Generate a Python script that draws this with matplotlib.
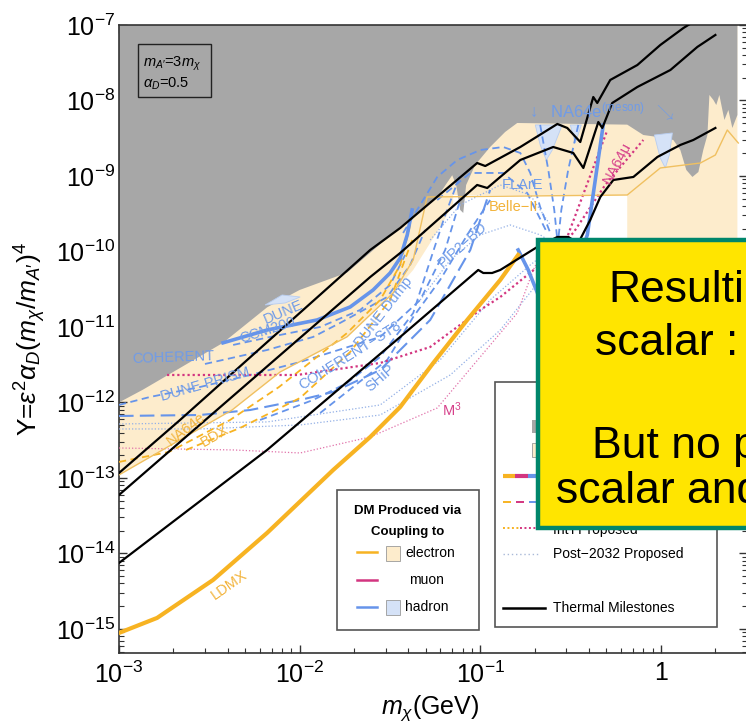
import numpy as np
import matplotlib
matplotlib.use("Agg")
import matplotlib.pyplot as plt
from matplotlib.patches import Rectangle, Polygon
from matplotlib.ticker import LogLocator, FixedLocator, FixedFormatter, NullFormatter

plt.rcParams['font.family'] = ['Liberation Sans', 'DejaVu Sans']
plt.rcParams['mathtext.fontset'] = 'custom'
plt.rcParams['mathtext.rm'] = 'Liberation Sans'
plt.rcParams['mathtext.it'] = 'Liberation Sans:italic'
plt.rcParams['mathtext.bf'] = 'Liberation Sans:bold'
plt.rcParams['mathtext.sf'] = 'Liberation Sans'

# ---------------------------------------------------------------- axes
m_lim = (1e-3, 3.0)
Y_lim = (4.8e-16, 1e-7)
xtick_vals = [1e-3, 1e-2, 1e-1, 1.0]
xtick_labels = [r'$10^{-3}$', r'$10^{-2}$', r'$10^{-1}$', '1']
ytick_vals = [1e-15, 1e-14, 1e-13, 1e-12, 1e-11, 1e-10, 1e-9, 1e-8, 1e-7]
ytick_labels = [r'$10^{-15}$', r'$10^{-14}$', r'$10^{-13}$', r'$10^{-12}$',
                r'$10^{-11}$', r'$10^{-10}$', r'$10^{-9}$', r'$10^{-8}$', r'$10^{-7}$']

# ---------------------------------------------------------------- data (log10 m[GeV], log10 Y)
# existing constraints (grey), lower edge
grey_lm = [-3.0, -2.867, -2.424, -2.18, -2.0, -1.737, -1.443, -1.332, -1.222, -1.155,
           -1.133, -1.111, -1.094, -1.078, -1.028, -0.945, -0.862, -0.795, -0.186, -0.097,
           -0.019, 0.069, 0.108, 0.141, 0.175, 0.208, 0.235, 0.258, 0.269, 0.291,
           0.307, 0.324, 0.352, 0.374, 0.396, 0.424]
grey_lY = [-12.0, -11.83, -11.21, -10.74, -10.51, -10.28, -9.675, -9.45, -9.225, -8.99,
           -9.12, -9.45, -9.49, -9.12, -8.854, -8.616, -8.417, -8.298, -8.32, -8.457,
           -8.483, -8.523, -8.656, -8.92, -9.013, -8.947, -8.656, -8.457, -7.927, -7.993,
           -8.06, -7.927, -8.258, -8.126, -8.364, -8.192]

# electron-beam constraints (beige), lower edge
beige_lm = [-3.0, -2.374, -2.108, -1.737, -1.482, -1.371, -1.249, -1.150, -1.150,
            -0.186, -0.186, 0.424]
beige_lY = [-12.96, -12.10, -11.596, -11.13, -10.55, -10.245, -9.78, -9.384, -9.252,
            -9.252, -11.30, -11.30]

# thin orange boundary (NA64e / Belle-II)
orange_lm = [-3.0, -2.374, -2.108, -1.737, -1.482, -1.371, -1.294, -0.186, -0.003,
             0.219, 0.302, 0.368, 0.429]
orange_lY = [-12.96, -12.10, -11.596, -11.13, -10.55, -10.11, -9.278, -9.252, -8.894,
             -8.828, -8.722, -8.391, -8.563]

# hadron-beam excluded patches (light blue)
hpatch_a_lm = [-0.695, -0.546, -0.601, -0.634, -0.668]
hpatch_a_lY = [-8.324, -8.324, -8.656, -8.788, -8.589]
hpatch_b_lm = [-0.501, -0.440, -0.474]
hpatch_b_lY = [-8.324, -8.324, -8.563]
hpatch_c_lm = [-0.036, 0.064, 0.047, 0.025, -0.003]
hpatch_c_lY = [-8.457, -8.43, -8.722, -8.894, -8.762]
hpatch_d_lm = [-2.191, -2.097, -1.997, -2.080]
hpatch_d_lY = [-10.709, -10.576, -10.603, -10.682]

# thermal milestones
th1_lm = [-3.0, -2.662, -1.609, -1.443, -1.017, -0.972, -0.778, -0.573, -0.518, -0.446,
          -0.374, -0.352, -0.280, -0.130, -0.003, 0.125, 0.330]
th1_lY = [-12.934, -12.232, -9.98, -9.689, -8.828, -8.868, -8.616, -8.311, -8.364, -8.55,
          -7.954, -8.033, -7.728, -7.53, -7.265, -7.04, -6.735]
th2_lm = [-3.0, -2.662, -1.609, -1.443, -1.017, -0.961, -0.778, -0.596, -0.485, -0.429,
          -0.346, -0.324, -0.269, -0.130, 0.053, 0.202, 0.302]
th2_lY = [-13.225, -12.523, -10.338, -10.02, -9.119, -9.159, -8.788, -8.616, -8.695, -8.894,
          -8.285, -8.364, -8.033, -7.821, -7.596, -7.291, -7.132]
th3_lm = [-3.0, -2.18, -1.443, -1.011, -0.983, -0.934, -0.889, -0.684, -0.573, -0.513,
          -0.457, -0.391, -0.335, -0.263, -0.152, -0.019, 0.108, 0.180, 0.302]
th3_lY = [-14.126, -12.629, -11.132, -10.245, -10.285, -10.285, -10.245, -9.94, -9.808, -9.808,
          -9.887, -9.583, -9.278, -9.053, -9.013, -8.748, -8.589, -8.523, -8.364]

# LDMX projection
ldmx_lm = [-3.0, -2.789, -2.479, -2.18, -1.814, -1.609, -1.443, -1.260, -1.072, -0.889, -0.790]
ldmx_lY = [-15.053, -14.854, -14.351, -13.728, -12.894, -12.457, -12.06, -11.477, -10.907,
           -10.377, -10.046]

# CCM200 and the hadron-beam solid curve
ccm_lm = [-2.424, -2.18, -1.903, -1.720, -1.593, -1.499, -1.443, -1.404, -1.377]
ccm_lY = [-11.21, -11.04, -10.907, -10.735, -10.51, -10.285, -10.086, -9.78, -9.45]
had_lm = [-0.790, -0.734, -0.668, -0.585, -0.501, -0.446, -0.407, -0.363, -0.319]
had_lY = [-9.98, -10.245, -10.642, -10.907, -10.642, -10.046, -9.78, -9.053, -8.324]

# muon-beam projections
na64mu_lm = [-2.734, -2.014, -1.554, -1.277, -1.0, -0.889, -0.684, -0.518, -0.296]
na64mu_lY = [-11.636, -11.636, -11.477, -11.265, -10.775, -10.603, -10.205, -9.808, -8.391]
na64mu2_lm = [-0.557, -0.485, -0.308, -0.097]
na64mu2_lY = [-9.914, -9.755, -9.119, -8.523]
m3_lm = [-3.0, -2.368, -1.997, -1.609, -1.238, -1.0, -0.795, -0.706, -0.640]
m3_lY = [-12.603, -12.629, -12.669, -12.457, -12.073, -11.397, -10.815, -10.245, -9.914]

# electron-beam dashed projections
na64e_lm = [-3.0, -2.723, -2.385, -2.114, -1.925, -1.737, -1.554, -1.443, -1.388]
na64e_lY = [-12.788, -12.655, -12.232, -11.795, -11.437, -11.08, -10.642, -10.179, -9.649]
bdx_lm = [-2.629, -2.330, -1.997, -1.720, -1.499, -1.377]
bdx_lY = [-12.629, -12.338, -11.94, -11.331, -10.642, -9.848]

# hadron-beam dashed projections
coh_lm = [-2.524, -2.18, -1.925, -1.776, -1.515, -1.388, -1.305]
coh_lY = [-11.49, -11.305, -11.132, -10.947, -10.603, -10.179, -9.715]
prism_lm = [-3.0, -2.828, -2.551, -2.274, -1.997, -1.554, -1.332, -1.194, -1.111]
prism_lY = [-12.033, -11.927, -11.795, -11.636, -11.464, -11.132, -10.642, -9.98, -9.318]
ld_lm = [-3.0, -2.551, -2.274, -1.997, -1.814, -1.554, -1.277, -1.055, -0.945]
ld_lY = [-12.179, -12.166, -12.10, -11.967, -11.861, -11.57, -10.907, -9.98, -9.185]
dump_lm = [-2.219, -1.925, -1.737, -1.554, -1.371, -1.294, -1.194, -1.111]
dump_lY = [-12.232, -11.967, -11.742, -11.397, -10.815, -10.245, -9.517, -8.987]
ship_lm = [-1.886, -1.515, -1.371, -1.222, -1.055, -0.945]
ship_lY = [-12.139, -11.437, -10.868, -10.377, -9.715, -9.318]
dune_lm = [-2.368, -2.163, -1.886, -1.665, -1.499, -1.416]
dune_lY = [-11.238, -11.132, -11.0, -10.775, -10.444, -10.046]
flare1_lm = [-1.427, -1.238, -1.127, -1.0, -0.873, -0.778, -0.723, -0.668, -0.612]
flare1_lY = [-9.755, -9.013, -8.788, -8.656, -8.616, -8.695, -8.96, -9.411, -9.755]
flare2_lm = [-1.238, -1.055, -0.873, -0.740, -0.629]
flare2_lY = [-9.318, -8.96, -8.96, -9.225, -9.755]
mes1_lm = [-0.668, -0.623, -0.590, -0.573]
mes1_lY = [-8.324, -8.92, -9.45, -9.848]
mes2_lm = [-0.457, -0.513, -0.551, -0.568]
mes2_lY = [-8.324, -8.92, -9.45, -9.848]

# post-2032 dotted projections
dt1_lm = [-3.0, -2.18, -1.554, -1.222, -0.945, -0.723, -0.579]
dt1_lY = [-12.285, -12.258, -12.033, -11.437, -10.642, -10.179, -9.914]
dt2_lm = [-3.0, -2.551, -1.997, -1.554, -1.166, -0.889, -0.668, -0.579]
dt2_lY = [-12.351, -12.351, -12.298, -12.166, -11.636, -11.04, -10.377, -9.98]
dt3_lm = [-1.332, -1.166, -1.0, -0.834, -0.668, -0.579]
dt3_lY = [-10.642, -10.113, -9.78, -9.649, -9.78, -9.914]
dt4_lm = [-1.277, -1.111, -0.889, -0.723, -0.612]
dt4_lY = [-9.848, -9.384, -9.119, -9.252, -9.649]

# curve labels: text, log10 m, log10 Y, rotation, colour key
labels = [
    ('COHERENT', -2.701, -11.411, 2, 'blue'),
    ('DUNE', -2.091, -10.801, 23, 'blue'),
    ('CCM200', -2.18, -11.04, 18, 'blue'),
    ('DUNE PRISM', -2.524, -11.755, 16, 'blue'),
    ('COHERENT\u2212ST8', -1.72, -11.371, 32, 'blue'),
    ('DUNE Dump', -1.537, -10.801, 52, 'blue'),
    ('SHiP', -1.554, -11.676, 41, 'blue'),
    ('PIP2\u2212BD', -1.100, -9.914, 42, 'blue'),
    ('FLArE', -0.767, -9.119, 0, 'blue'),
    ('Belle\u2212II', -0.817, -9.411, 0, 'orange'),
    ('NA64\u03bc', -0.241, -8.828, 62, 'magenta'),
    ('NA64e', -2.629, -12.351, 38, 'orange'),
    ('BDX', -2.468, -12.444, 30, 'orange'),
    ('LDMX', -2.391, -14.417, 35, 'orange'),
    ('M$^3$', -1.155, -12.099, 0, 'magenta'),
]

# ---------------------------------------------------------------- colours
C_GREY = '#a7a7a7'
C_BEIGE = '#fdeccc'
C_LBLUE = '#d5e2f7'
C_BLUE = '#6694ea'
C_ORANGE = '#f7b322'
C_ORANGE_THIN = '#f0c060'
C_MAG = '#d33580'
C_PINK = '#e172aa'
C_DOT = '#93b0e6'
TEXT_C = {'blue': '#6f9be8', 'orange': '#f2b33a', 'magenta': '#d6408a'}


def pts(lm, lY):
    return 10 ** np.asarray(lm, float), 10 ** np.asarray(lY, float)


W, H = 746, 724
fig = plt.figure(figsize=(W / 100, H / 100), dpi=100)
ax = fig.add_axes([119 / W, 1 - 653 / H, 628 / W, 628 / H])
ax.set_xscale('log')
ax.set_yscale('log')
ax.set_xlim(*m_lim)
ax.set_ylim(*Y_lim)

top = np.log10(Y_lim[1])

# filled regions
bx, by = pts(beige_lm + [beige_lm[-1], beige_lm[0]], beige_lY + [top, top])
ax.add_patch(Polygon(np.c_[bx, by], closed=True, fc=C_BEIGE, ec='none', zorder=1))
gx, gy = pts(grey_lm + [grey_lm[-1], grey_lm[0]], grey_lY + [top, top])
ax.add_patch(Polygon(np.c_[gx, gy], closed=True, fc=C_GREY, ec='none', zorder=2))
for plm, plY in [(hpatch_a_lm, hpatch_a_lY), (hpatch_b_lm, hpatch_b_lY),
                 (hpatch_c_lm, hpatch_c_lY), (hpatch_d_lm, hpatch_d_lY)]:
    px, py = pts(plm, plY)
    ax.add_patch(Polygon(np.c_[px, py], closed=True, fc=C_LBLUE, ec='#b8cdf0',
                         lw=0.6, zorder=3))

# post-2032 dotted curves
for lm, lY in [(dt1_lm, dt1_lY), (dt2_lm, dt2_lY), (dt3_lm, dt3_lY), (dt4_lm, dt4_lY)]:
    ax.plot(*pts(lm, lY), color=C_DOT, lw=0.9, ls=(0, (1, 1.6)), zorder=4)
ax.plot(*pts(m3_lm, m3_lY), color=C_PINK, lw=0.9, ls=(0, (1, 1.6)), zorder=4)

# dashed projections
for lm, lY in [(coh_lm, coh_lY), (prism_lm, prism_lY), (dump_lm, dump_lY),
               (ship_lm, ship_lY), (dune_lm, dune_lY), (flare1_lm, flare1_lY),
               (flare2_lm, flare2_lY), (mes1_lm, mes1_lY), (mes2_lm, mes2_lY)]:
    ax.plot(*pts(lm, lY), color=C_BLUE, lw=1.3, ls=(0, (4, 2.5)), zorder=4)
ax.plot(*pts(ld_lm, ld_lY), color=C_BLUE, lw=1.5, ls=(0, (7, 3)), zorder=4)
ax.plot(*pts(na64e_lm, na64e_lY), color=C_ORANGE, lw=1.3, ls=(0, (4, 2.5)), zorder=4)
ax.plot(*pts(bdx_lm, bdx_lY), color=C_ORANGE, lw=1.3, ls=(0, (4, 2.5)), zorder=4)
ax.plot(*pts(na64mu_lm, na64mu_lY), color=C_MAG, lw=1.6, ls=(0, (1, 1.3)), zorder=4)
ax.plot(*pts(na64mu2_lm, na64mu2_lY), color=C_MAG, lw=1.6, ls=(0, (1, 1.3)), zorder=4)

# solid curves
ax.plot(*pts(orange_lm, orange_lY), color=C_ORANGE_THIN, lw=1.0, zorder=5)
ax.plot(*pts(ccm_lm, ccm_lY), color=C_BLUE, lw=2.6, zorder=5)
ax.plot(*pts(had_lm, had_lY), color=C_BLUE, lw=2.6, zorder=5)
ax.plot(*pts(ldmx_lm, ldmx_lY), color=C_ORANGE, lw=3.0, zorder=5)
for lm, lY in [(th1_lm, th1_lY), (th2_lm, th2_lY), (th3_lm, th3_lY)]:
    ax.plot(*pts(lm, lY), color='black', lw=1.6, zorder=6)

for txt, lm, lY, rot, ck in labels:
    ax.text(10 ** lm, 10 ** lY, txt, rotation=rot, color=TEXT_C[ck], fontsize=10.5,
            ha='center', va='center', rotation_mode='anchor', zorder=7)
ax.text(10 ** -0.335, 10 ** -8.152,
        r'$\downarrow$  NA64e$^{\mathrm{(meson)}}$  $\searrow$',
        color=TEXT_C['blue'], fontsize=12, ha='center', va='center', zorder=7)

# axis styling
ax.xaxis.set_major_locator(FixedLocator(xtick_vals))
ax.xaxis.set_major_formatter(FixedFormatter(xtick_labels))
ax.yaxis.set_major_locator(FixedLocator(ytick_vals))
ax.yaxis.set_major_formatter(FixedFormatter(ytick_labels))
ax.xaxis.set_minor_locator(LogLocator(base=10, subs=np.arange(2, 10), numticks=50))
ax.yaxis.set_minor_locator(LogLocator(base=10, subs=np.arange(2, 10), numticks=50))
ax.xaxis.set_minor_formatter(NullFormatter())
ax.yaxis.set_minor_formatter(NullFormatter())
ax.tick_params(which='both', direction='in', top=True, right=True, colors='#333333',
               labelcolor='black')
ax.tick_params(which='major', length=6, width=1.0, labelsize=18)
ax.tick_params(which='minor', length=3.5, width=0.8)
ax.tick_params(axis='x', pad=6)
ax.tick_params(axis='y', pad=3)
for sp in ax.spines.values():
    sp.set_linewidth(1.2)
    sp.set_color('#333333')

ax.set_xlabel(r'$m_\chi$(GeV)', fontsize=18, va='center')
ax.xaxis.set_label_coords(0.495, -0.0876)
ax.set_ylabel(r'Y=$\varepsilon^2\alpha_D(m_\chi/m_{A\prime})^4$', fontsize=19, va='center')
ax.yaxis.set_label_coords(-0.1417, 0.50)

# ---------------------------------------------------------------- overlay (pixel space)
ov = fig.add_axes([0, 0, 1, 1], zorder=10)
ov.set_xlim(0, W)
ov.set_ylim(H, 0)
ov.axis('off')

# parameter box
ov.add_patch(Rectangle((138, 44), 73, 53, fc='none', ec='#222222', lw=1.0))
ov.text(143, 64, r'$m_{A\prime}$=3$m_\chi$', fontsize=10.5, va='center', ha='left')
ov.text(143, 84, r'$\alpha_D$=0.5', fontsize=10.5, va='center', ha='left')

# coupling legend
ov.add_patch(Rectangle((337, 490), 142, 140, fc='white', ec='#555555', lw=1.2))
ov.text(408, 511, 'DM Produced via', fontsize=9.5, fontweight='bold', ha='center', va='center')
ov.text(408, 532, 'Coupling to', fontsize=9.5, fontweight='bold', ha='center', va='center')
ov.plot([357, 377], [552, 552], color=C_ORANGE, lw=1.8)
ov.add_patch(Rectangle((386, 546), 14, 15, fc=C_BEIGE, ec='#999999', lw=0.6))
ov.text(405, 553, 'electron', fontsize=10, va='center')
ov.plot([357, 377], [580, 580], color=C_MAG, lw=1.8)
ov.text(409, 580, 'muon', fontsize=10, va='center')
ov.plot([357, 377], [607, 607], color=C_BLUE, lw=1.8)
ov.add_patch(Rectangle((386, 600), 14, 15, fc=C_LBLUE, ec='#999999', lw=0.6))
ov.text(405, 607, 'hadron', fontsize=10, va='center')

# status legend
ov.add_patch(Rectangle((495, 382), 222, 245, fc='white', ec='#555555', lw=1.2))
ov.add_patch(Rectangle((532, 420), 14, 13, fc=C_GREY, ec='none'))
ov.add_patch(Rectangle((532, 443), 14, 14, fc=C_BEIGE, ec='#999999', lw=0.6))
for x0, x1, c in [(503, 515, C_ORANGE), (515, 528, C_MAG), (528, 540, C_BLUE)]:
    ov.plot([x0, x1], [476, 476], color=c, lw=3, solid_capstyle='butt')
for x0, x1, c in [(503, 511, C_ORANGE), (516, 524, C_MAG), (529, 537, C_BLUE)]:
    ov.plot([x0, x1], [502, 502], color=c, lw=1.4, solid_capstyle='butt')
ov.plot([503, 520], [528, 528], color=C_ORANGE, lw=1.4, ls=(0, (1, 1.3)))
ov.plot([520, 540], [528, 528], color=C_MAG, lw=1.4, ls=(0, (1, 1.3)))
ov.text(553, 530, "Int'l Proposed", fontsize=10, va='center')
ov.plot([503, 540], [554, 554], color='#a9b9d8', lw=1.0, ls=(0, (1, 2)))
ov.text(553, 554, 'Post\u22122032 Proposed', fontsize=10, va='center')
ov.plot([503, 545], [608, 608], color='black', lw=1.8)
ov.text(553, 608, 'Thermal Milestones', fontsize=10, va='center')

# slide callout
ov.add_patch(Rectangle((538, 240), 240, 288, fc='#ffe500', ec='#00866b', lw=3.2, zorder=20))
for txt, x, y in [('Resulting', 608, 302), ('scalar :', 595, 355),
                  ('But no p', 592, 458), ('scalar and', 556, 503)]:
    ov.text(x, y, txt, fontsize=32, ha='left', va='baseline', color='black', zorder=21)

fig.savefig('out.png', dpi=100)
